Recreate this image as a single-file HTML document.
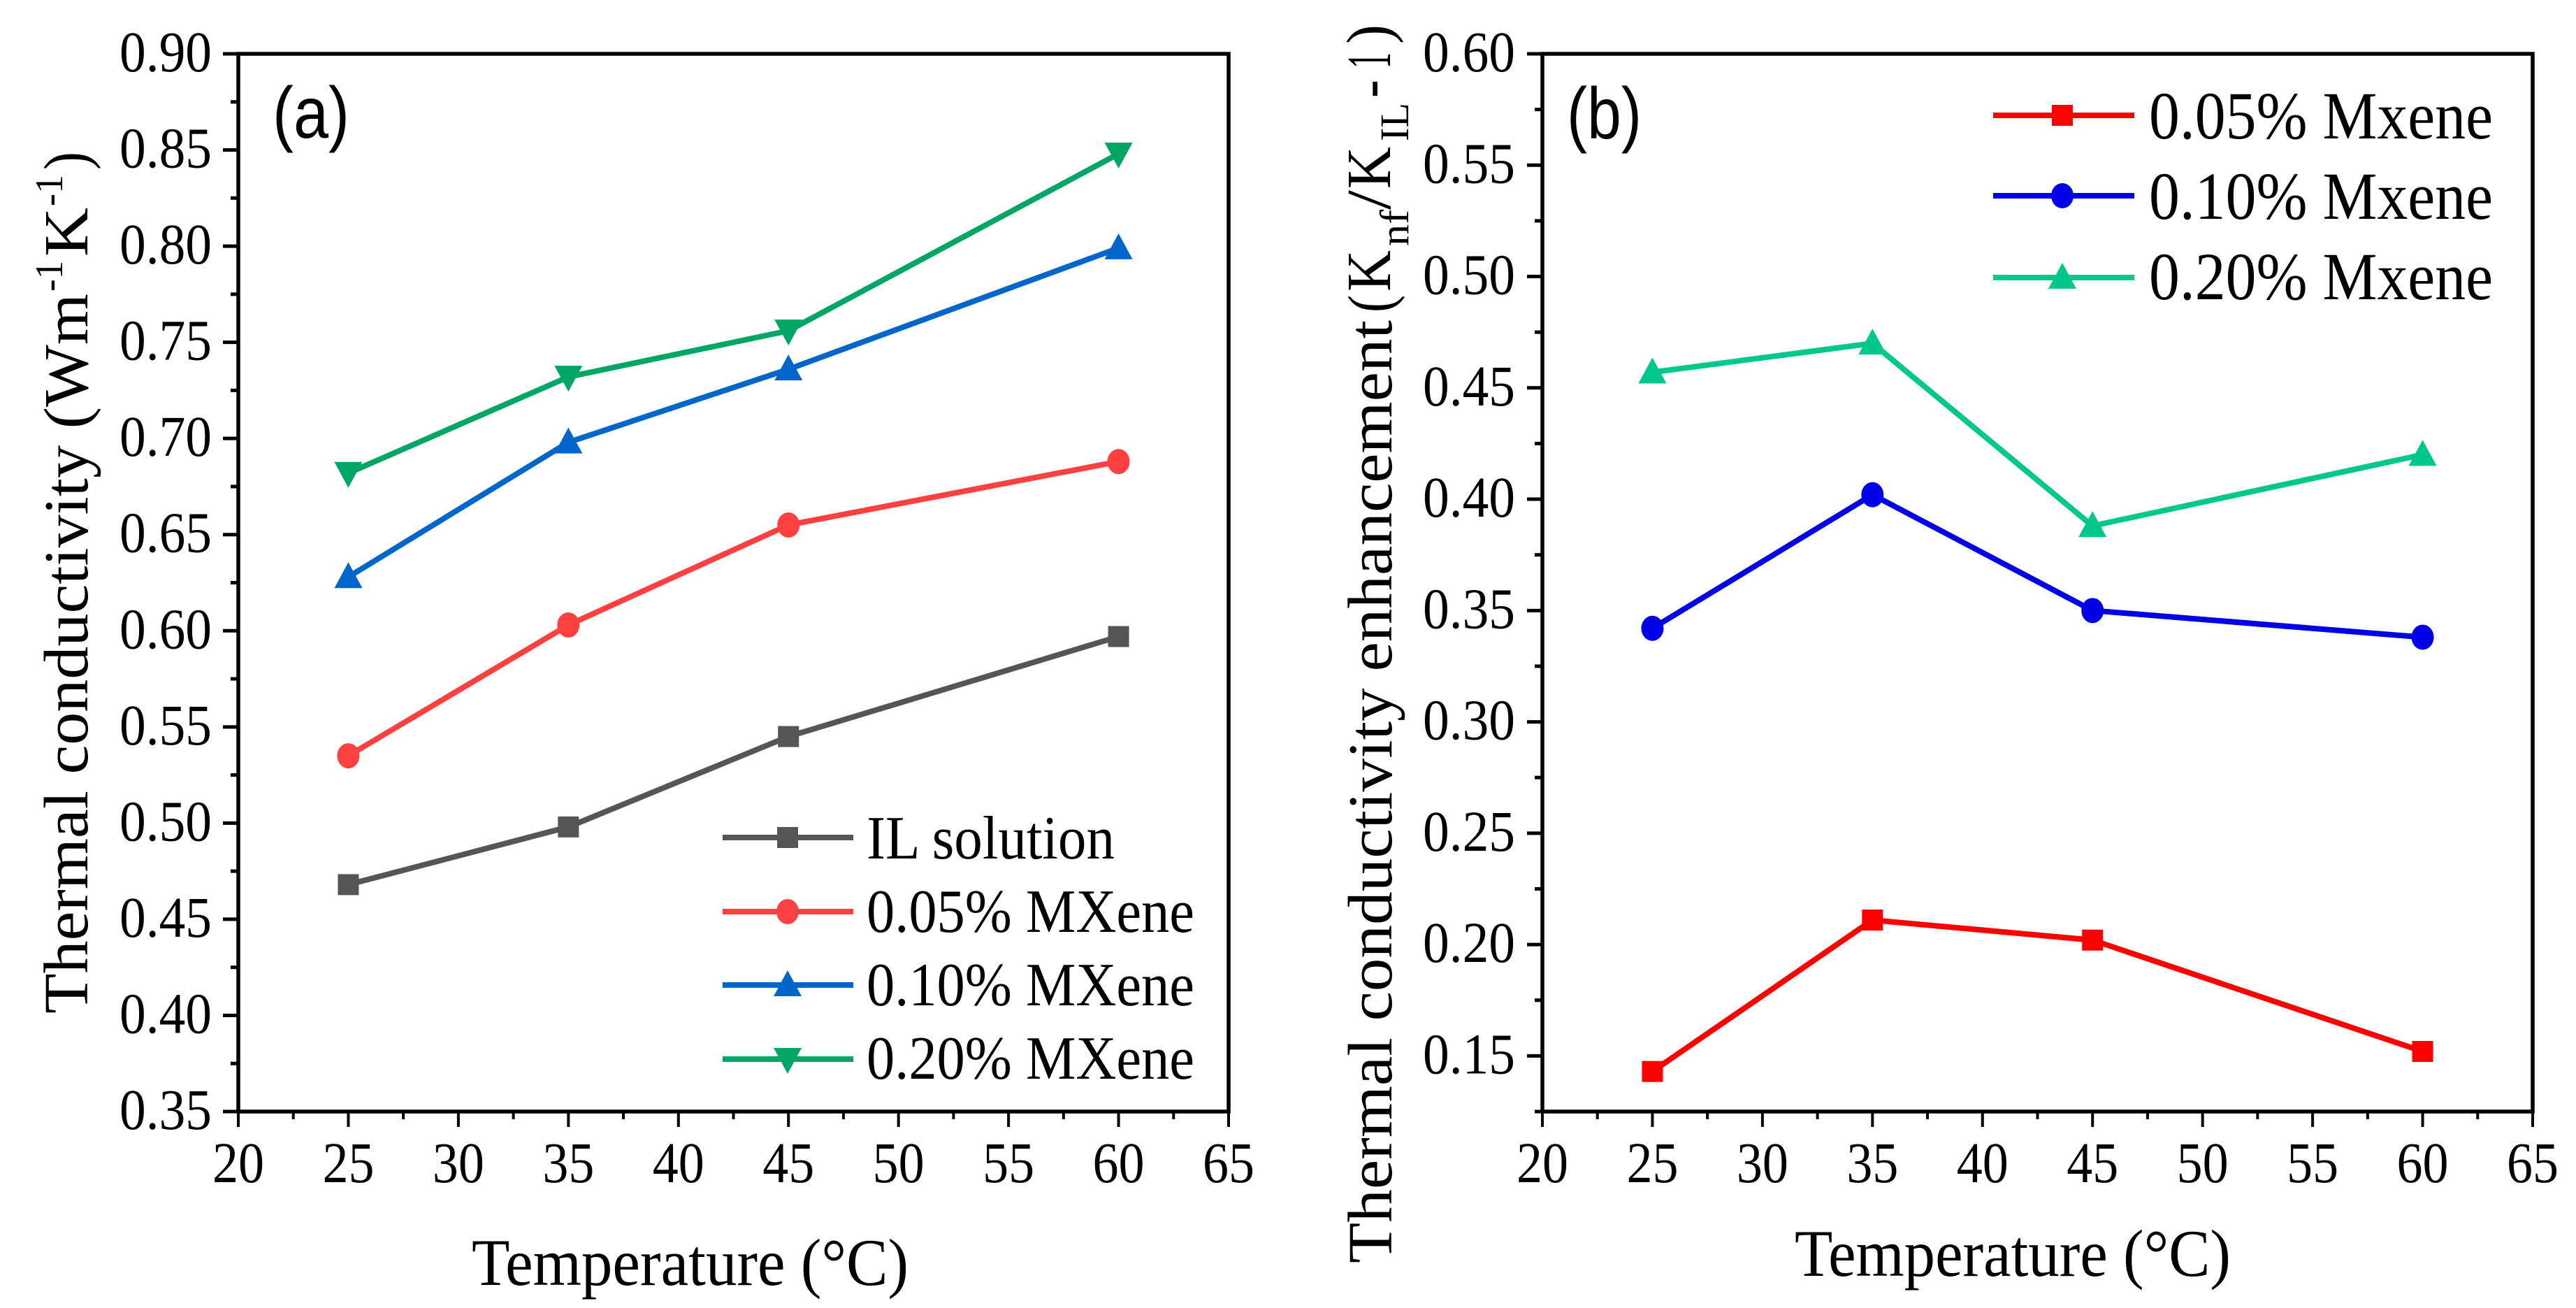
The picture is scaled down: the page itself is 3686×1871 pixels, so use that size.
<!DOCTYPE html>
<html>
<head>
<meta charset="utf-8">
<title>Thermal conductivity charts</title>
<style>
html,body{margin:0;padding:0;background:#fff;}
svg{display:block;}
text{font-family:"Liberation Serif",serif;fill:#000;}
</style>
</head>
<body>
<svg id="figure" xmlns="http://www.w3.org/2000/svg" width="3686" height="1871" viewBox="0 0 3686 1871">
<rect x="0" y="0" width="3686" height="1871" fill="#fff"/>

<g id="panelA"></g>
<g id="panelB"></g>

<!-- Panel a static text -->
<text x="390" y="197" font-size="104" textLength="110" lengthAdjust="spacingAndGlyphs" style="font-family:'Liberation Sans',sans-serif">(a)</text>
<text x="675" y="1838" font-size="95" textLength="625" lengthAdjust="spacingAndGlyphs">Temperature (°C)</text>
<g>
<text transform="translate(125,1450) rotate(-90)" font-size="90" textLength="1030" lengthAdjust="spacingAndGlyphs">Thermal conductivity (Wm</text>
<text transform="translate(89,417) rotate(-90)" font-size="56" textLength="44" lengthAdjust="spacingAndGlyphs">-1</text>
<text transform="translate(125,367) rotate(-90)" font-size="90" textLength="70" lengthAdjust="spacingAndGlyphs">K</text>
<text transform="translate(89,295) rotate(-90)" font-size="56" textLength="45" lengthAdjust="spacingAndGlyphs">-1</text>
<text transform="translate(125,243) rotate(-90)" font-size="90" textLength="26" lengthAdjust="spacingAndGlyphs">)</text>
</g>

<g>
<text x="1240" y="1228" font-size="88" textLength="355" lengthAdjust="spacingAndGlyphs">IL solution</text>
<text x="1240" y="1333" font-size="88" textLength="469" lengthAdjust="spacingAndGlyphs">0.05% MXene</text>
<text x="1240" y="1438" font-size="88" textLength="469" lengthAdjust="spacingAndGlyphs">0.10% MXene</text>
<text x="1240" y="1543" font-size="88" textLength="469" lengthAdjust="spacingAndGlyphs">0.20% MXene</text>
</g>

<!-- Panel b static text -->
<text x="2242" y="198" font-size="104" textLength="107" lengthAdjust="spacingAndGlyphs" style="font-family:'Liberation Sans',sans-serif">(b)</text>
<text x="2568" y="1825" font-size="95" textLength="624" lengthAdjust="spacingAndGlyphs">Temperature (°C)</text>
<g>
<text transform="translate(1991,1807) rotate(-90)" font-size="90" textLength="1349" lengthAdjust="spacingAndGlyphs">Thermal conductivity enhancement</text>
<text transform="translate(1991,447) rotate(-90)" font-size="90" textLength="25" lengthAdjust="spacingAndGlyphs">(</text>
<text transform="translate(1989,417) rotate(-90)" font-size="90" textLength="59" lengthAdjust="spacingAndGlyphs">K</text>
<text transform="translate(2015,352) rotate(-90)" font-size="58" textLength="52" lengthAdjust="spacingAndGlyphs">nf</text>
<text transform="translate(1989,300) rotate(-90)" font-size="90" textLength="28" lengthAdjust="spacingAndGlyphs">/</text>
<text transform="translate(1989,270) rotate(-90)" font-size="90" textLength="60" lengthAdjust="spacingAndGlyphs">K</text>
<text transform="translate(2015,202) rotate(-90)" font-size="58" textLength="55" lengthAdjust="spacingAndGlyphs">IL</text>
<text transform="translate(1989,140) rotate(-90)" font-size="90" textLength="26" lengthAdjust="spacingAndGlyphs">-</text>
<text transform="translate(1989,98) rotate(-90)" font-size="90" textLength="23" lengthAdjust="spacingAndGlyphs">1</text>
<text transform="translate(1989,63) rotate(-90)" font-size="90" textLength="28" lengthAdjust="spacingAndGlyphs">)</text>
</g>

<g>
<text x="3075" y="198" font-size="96" textLength="492" lengthAdjust="spacingAndGlyphs">0.05% Mxene</text>
<text x="3075" y="313" font-size="96" textLength="492" lengthAdjust="spacingAndGlyphs">0.10% Mxene</text>
<text x="3075" y="428" font-size="96" textLength="492" lengthAdjust="spacingAndGlyphs">0.20% Mxene</text>
</g>
</svg>

<script>
// Shared categories
const temperatures = [25, 35, 45, 60];

// Panel (a) series values
const ilSolution = [0.468, 0.498, 0.545, 0.597];
const mxene005A = [0.535, 0.603, 0.655, 0.688];
const mxene010A = [0.628, 0.698, 0.736, 0.799];
const mxene020A = [0.682, 0.732, 0.756, 0.848];

// Panel (b) series values
const mxene005B = [0.143, 0.211, 0.202, 0.152];
const mxene010B = [0.342, 0.402, 0.350, 0.338];
const mxene020B = [0.457, 0.470, 0.388, 0.420];

// Tick labels
const xTickLabels = ['20', '25', '30', '35', '40', '45', '50', '55', '60', '65'];
const yTickLabelsA = ['0.35', '0.40', '0.45', '0.50', '0.55', '0.60', '0.65', '0.70', '0.75', '0.80', '0.85', '0.90'];
const yTickLabelsB = ['0.15', '0.20', '0.25', '0.30', '0.35', '0.40', '0.45', '0.50', '0.55', '0.60'];

const SVGNS = 'http://www.w3.org/2000/svg';

function make(parent, tag, attrs) {
  const el = document.createElementNS(SVGNS, tag);
  for (const k in attrs) el.setAttribute(k, attrs[k]);
  parent.appendChild(el);
  return el;
}

function marker(parent, kind, cx, cy, color, name) {
  let el;
  if (kind === 'square') {
    el = make(parent, 'rect', { x: cx - 15, y: cy - 15, width: 30, height: 30, fill: color });
  } else if (kind === 'circle') {
    el = make(parent, 'ellipse', { cx: cx, cy: cy, rx: 16, ry: 18, fill: color });
  } else if (kind === 'up') {
    el = make(parent, 'polygon', { points: (cx - 20) + ',' + (cy + 16) + ' ' + (cx + 20) + ',' + (cy + 16) + ' ' + cx + ',' + (cy - 21), fill: color });
  } else {
    el = make(parent, 'polygon', { points: (cx - 20) + ',' + (cy - 16) + ' ' + (cx + 20) + ',' + (cy - 16) + ' ' + cx + ',' + (cy + 21), fill: color });
  }
  
  
  return el;
}

function drawAxes(g, cfg) {
  const L = cfg.left, R = cfg.right, T = cfg.top, B = cfg.bottom;
  const frame = make(g, 'rect', { x: L, y: T, width: R - L, height: B - T, fill: 'none', stroke: '#000', 'stroke-width': 5.5 });
  
  

  xTickLabels.forEach(function (lab) {
    const v = Number(lab);
    const x = cfg.x(v);
    const t = make(g, 'line', { x1: x, x2: x, y1: B, y2: B + 22, stroke: '#000', 'stroke-width': 4 });
    
    
    const tx = make(g, 'text', { x: x - 37, y: B + 101, 'font-size': 83, textLength: 74, lengthAdjust: 'spacingAndGlyphs' });
    tx.textContent = lab;
    
    
    if (v < 65) {
      const mx = cfg.x(v + 2.5);
      const m = make(g, 'line', { x1: mx, x2: mx, y1: B, y2: B + 11, stroke: '#000', 'stroke-width': 4 });
      
      
    }
  });

  cfg.yLabels.forEach(function (lab) {
    const v = Number(lab);
    const y = cfg.y(v);
    const t = make(g, 'line', { x1: L - 22, x2: L, y1: y, y2: y, stroke: '#000', 'stroke-width': 5 });
    
    
    const tx = make(g, 'text', { x: cfg.labelRight - 132, y: y + 25, 'font-size': 83, textLength: 132, lengthAdjust: 'spacingAndGlyphs' });
    tx.textContent = lab;
    
    
    const minorV = v + 0.025;
    if (minorV < cfg.yMax) {
      const my = cfg.y(minorV);
      const m = make(g, 'line', { x1: L - 11, x2: L, y1: my, y2: my, stroke: '#000', 'stroke-width': 5 });
      
      
    }
    if (cfg.yMin < v - 0.01 && cfg.yLabels[0] === lab) {
      const my2 = cfg.y(v - 0.025);
      const m2 = make(g, 'line', { x1: L - 11, x2: L, y1: my2, y2: my2, stroke: '#000', 'stroke-width': 5 });
      
      
    }
  });
}

function drawSeries(g, cfg, values, color, kind, name) {
  const pts = values.map(function (v, i) { return cfg.x(temperatures[i]) + ',' + cfg.y(v); }).join(' ');
  const line = make(g, 'polyline', { points: pts, fill: 'none', stroke: color, 'stroke-width': 8, 'stroke-linejoin': 'round' });
  
  
  values.forEach(function (v, i) {
    marker(g, kind, cfg.x(temperatures[i]), cfg.y(v), color, name + '-point');
  });
}

function legendKey(g, x1, x2, cx, cy, color, kind, name) {
  const l = make(g, 'line', { x1: x1, x2: x2, y1: cy, y2: cy, stroke: color, 'stroke-width': 8 });
  
  
  marker(g, kind, cx, cy, color, name + '-marker');
}

const cfgA = {
  left: 341, right: 1758, top: 77, bottom: 1590, labelRight: 303, yMin: 0.35, yMax: 0.90, yLabels: yTickLabelsA,
  x: function (v) { return 341 + (v - 20) * (1417 / 45); },
  y: function (v) { return 1590 - (v - 0.35) * (1513 / 0.55); }
};
const cfgB = {
  left: 2207, right: 3624, top: 77, bottom: 1590, labelRight: 2168, yMin: 0.125, yMax: 0.60, yLabels: yTickLabelsB,
  x: function (v) { return 2207 + (v - 20) * (1417 / 45); },
  y: function (v) { return 1590 - (v - 0.125) * (1513 / 0.475); }
};

const gA = document.getElementById('panelA');
const gB = document.getElementById('panelB');

drawAxes(gA, cfgA);
drawSeries(gA, cfgA, ilSolution, '#555555', 'square', 'il-solution');
drawSeries(gA, cfgA, mxene005A, '#FF4040', 'circle', 'mxene-005-a');
drawSeries(gA, cfgA, mxene010A, '#0066CC', 'up', 'mxene-010-a');
drawSeries(gA, cfgA, mxene020A, '#00A664', 'down', 'mxene-020-a');
legendKey(gA, 1034, 1221, 1127, 1198, '#555555', 'square', 'legend-a-il-solution-key');
legendKey(gA, 1034, 1221, 1127, 1304, '#FF4040', 'circle', 'legend-a-005-key');
legendKey(gA, 1034, 1221, 1127, 1409, '#0066CC', 'up', 'legend-a-010-key');
legendKey(gA, 1034, 1221, 1127, 1515, '#00A664', 'down', 'legend-a-020-key');

drawAxes(gB, cfgB);
drawSeries(gB, cfgB, mxene005B, '#FF0000', 'square', 'mxene-005-b');
drawSeries(gB, cfgB, mxene010B, '#0000E6', 'circle', 'mxene-010-b');
drawSeries(gB, cfgB, mxene020B, '#00C78C', 'up', 'mxene-020-b');
legendKey(gB, 2852, 3054, 2951, 165, '#FF0000', 'square', 'legend-b-005-key');
legendKey(gB, 2852, 3054, 2951, 280, '#0000E6', 'circle', 'legend-b-010-key');
legendKey(gB, 2852, 3054, 2951, 397, '#00C78C', 'up', 'legend-b-020-key');
</script>
</body>
</html>
